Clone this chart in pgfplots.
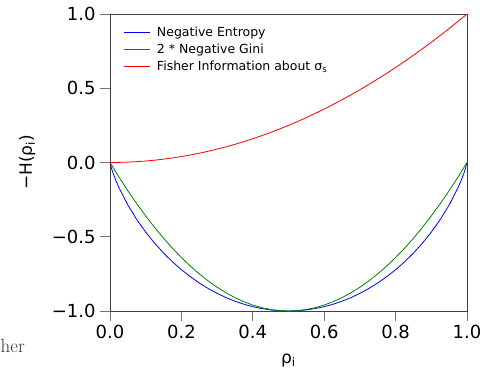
\documentclass[border=0pt]{standalone}
\usepackage{fontspec}
\setsansfont{DejaVu Sans}
\renewcommand{\familydefault}{\sfdefault}
\usepackage{pgfplots}
\pgfplotsset{compat=1.18}
\definecolor{mplgreen}{HTML}{008000}
\begin{document}
\begin{tikzpicture}
\useasboundingbox (0,0) rectangle (483pt,369pt);
\begin{axis}[
  at={(110pt,58pt)}, anchor=south west,
  scale only axis, width=357pt, height=297pt,
  xmin=0, xmax=1, ymin=-1, ymax=1,
  xtick={0,0.2,0.4,0.6,0.8,1.0},
  xticklabels={0.0,0.2,0.4,0.6,0.8,1.0},
  ytick={-1,-0.5,0,0.5,1},
  yticklabels={−1.0,−0.5,0.0,0.5,1.0},
  tick align=outside, xtick pos=left, ytick pos=left,
  major tick length=10pt,
  tick style={black!55, line width=0.8pt},
  axis line style={black!75, line width=0.8pt},
  ticklabel style={font=\fontsize{18}{20}\selectfont},
  xticklabel style={yshift=-1pt},
  yticklabel style={xshift=-1pt},
  xlabel={ρ\textsubscript{i}},
  ylabel={−H(ρ\textsubscript{i})},
  xlabel style={at={(axis description cs:0.5,-0.178)}, anchor=base},
  ylabel style={at={(axis description cs:-0.232,0.5)}, anchor=center},
  label style={font=\fontsize{17}{20}\selectfont},
  legend style={at={(0.028,0.972)}, anchor=north west, draw=none, fill=none,
    font=\fontsize{12.5}{15}\selectfont, row sep=2.2pt,
    /tikz/every odd column/.append style={column sep=5pt}},
  legend cell align=left,
  legend image code/.code={\draw[mark repeat=2,mark phase=2,#1] plot coordinates {(0pt,0pt) (13pt,0pt) (26pt,0pt)};},
]
\addplot[color=blue, line width=0.8pt] coordinates {
(0,0) (0.005,-0.045415) (0.01,-0.080793) (0.015,-0.11236)
(0.025,-0.16866) (0.05,-0.28640) (0.075,-0.38431) (0.1,-0.46900)
(0.125,-0.54356) (0.15,-0.60984) (0.175,-0.66902) (0.2,-0.72193)
(0.225,-0.76919) (0.25,-0.81128) (0.275,-0.84855) (0.3,-0.88129)
(0.325,-0.90973) (0.35,-0.93407) (0.375,-0.95443) (0.4,-0.97095)
(0.425,-0.98371) (0.45,-0.99277) (0.475,-0.99820) (0.5,-1)
(0.525,-0.99820) (0.55,-0.99277) (0.575,-0.98371) (0.6,-0.97095)
(0.625,-0.95443) (0.65,-0.93407) (0.675,-0.90973) (0.7,-0.88129)
(0.725,-0.84855) (0.75,-0.81128) (0.775,-0.76919) (0.8,-0.72193)
(0.825,-0.66902) (0.85,-0.60984) (0.875,-0.54356) (0.9,-0.46900)
(0.925,-0.38431) (0.95,-0.28640) (0.975,-0.16866) (0.985,-0.11236)
(0.99,-0.080793) (0.995,-0.045415) (1,0)
};
\addlegendentry{Negative Entropy}
\addplot[color=mplgreen, line width=0.8pt] coordinates {
(0,0) (0.025,-0.0975) (0.05,-0.19) (0.075,-0.2775) (0.1,-0.36)
(0.125,-0.4375) (0.15,-0.51) (0.175,-0.5775) (0.2,-0.64) (0.225,-0.6975)
(0.25,-0.75) (0.275,-0.7975) (0.3,-0.84) (0.325,-0.8775) (0.35,-0.91)
(0.375,-0.9375) (0.4,-0.96) (0.425,-0.9775) (0.45,-0.99) (0.475,-0.9975)
(0.5,-1) (0.525,-0.9975) (0.55,-0.99) (0.575,-0.9775) (0.6,-0.96)
(0.625,-0.9375) (0.65,-0.91) (0.675,-0.8775) (0.7,-0.84) (0.725,-0.7975)
(0.75,-0.75) (0.775,-0.6975) (0.8,-0.64) (0.825,-0.5775) (0.85,-0.51)
(0.875,-0.4375) (0.9,-0.36) (0.925,-0.2775) (0.95,-0.19) (0.975,-0.0975)
(1,0)
};
\addlegendentry{2 * Negative Gini}
\addplot[color=red, line width=0.8pt] coordinates {
(0,0) (0.025,0.000625) (0.05,0.0025) (0.075,0.005625) (0.1,0.01)
(0.125,0.015625) (0.15,0.0225) (0.175,0.030625) (0.2,0.04) (0.225,0.050625)
(0.25,0.0625) (0.275,0.075625) (0.3,0.09) (0.325,0.105625) (0.35,0.1225)
(0.375,0.140625) (0.4,0.16) (0.425,0.180625) (0.45,0.2025) (0.475,0.225625)
(0.5,0.25) (0.525,0.275625) (0.55,0.3025) (0.575,0.330625) (0.6,0.36)
(0.625,0.390625) (0.65,0.4225) (0.675,0.455625) (0.7,0.49) (0.725,0.525625)
(0.75,0.5625) (0.775,0.600625) (0.8,0.64) (0.825,0.680625) (0.85,0.7225)
(0.875,0.765625) (0.9,0.81) (0.925,0.855625) (0.95,0.9025) (0.975,0.950625)
(1,1)
};
\addlegendentry{Fisher Information about σ\textsubscript{s}}
\end{axis}
\node[anchor=base west, inner sep=0pt, text=black!80, font=\rmfamily\fontsize{19}{22}\selectfont] at (0.5pt,16pt) {her};
\end{tikzpicture}
\end{document}
